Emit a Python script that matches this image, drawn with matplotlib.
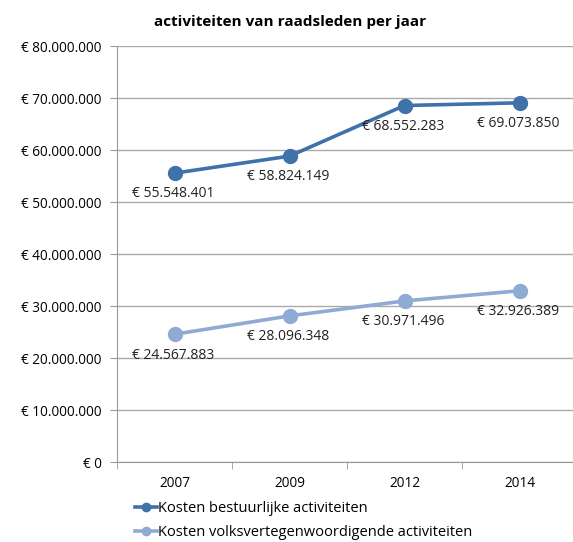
import matplotlib.pyplot as plt
from matplotlib.ticker import FuncFormatter

plt.rcParams['font.family'] = ['Open Sans', 'DejaVu Sans']

years = ['2007', '2009', '2012', '2014']
bestuurlijk = [55548401, 58824149, 68552283, 69073850]
volks = [24567883, 28096348, 30971496, 32926389]
labels = ['Kosten bestuurlijke activiteiten', 'Kosten volksvertegenwoordigende activiteiten']
c_dark = '#3F71AA'
c_light = '#8FAAD3'


def euro(v, pos=None):
    return '€ ' + format(int(round(v)), ',').replace(',', '.')


fig = plt.figure(figsize=(5.73, 5.42), dpi=100)
ax = fig.add_axes([117 / 573, 80 / 542, 460 / 573, 416 / 542])

x = range(len(years))
p1, = ax.plot(x, bestuurlijk, color=c_dark, lw=2.6, marker='o', ms=10, label=labels[0], zorder=3)
p2, = ax.plot(x, volks, color=c_light, lw=2.6, marker='o', ms=10, label=labels[1], zorder=3)

for xx, yy in zip(x, bestuurlijk):
    ax.annotate(euro(yy), (xx, yy), xytext=(-1, -15), textcoords='offset points',
                ha='center', va='center', fontsize=10, color='#222222')
for xx, yy in zip(x, volks):
    ax.annotate(euro(yy), (xx, yy), xytext=(-1, -15), textcoords='offset points',
                ha='center', va='center', fontsize=10, color='#222222')

ax.set_xlim(-0.5, 3.5)
ax.set_ylim(0, 80000000)
ax.set_yticks(range(0, 80000001, 10000000))
ax.yaxis.set_major_formatter(FuncFormatter(euro))
ax.set_xticks(list(x))
ax.set_xticklabels(years)
ax.set_xticks([-0.5, 0.5, 1.5, 2.5, 3.5], minor=True)
ax.tick_params(axis='x', which='major', length=0, pad=10, labelsize=9.8)
ax.tick_params(axis='x', which='minor', length=5, color='#999999')
ax.tick_params(axis='y', length=5, color='#999999', labelsize=9.8, pad=6)

ax.grid(True, axis='y', color='#AAAAAA', lw=1)
ax.set_axisbelow(True)
for s in ['top', 'right']:
    ax.spines[s].set_visible(False)
for s in ['left', 'bottom']:
    ax.spines[s].set_color('#999999')

fig.text(290 / 573, 1 - 22 / 542, 'activiteiten van raadsleden per jaar',
         ha='center', va='center', fontsize=11, fontweight='bold')

fig.legend(handles=[p1, p2], loc='upper left', bbox_to_anchor=(135 / 573, 1 - 501 / 542),
           frameon=False, fontsize=10.5, handlelength=1.5, handletextpad=0.05,
           labelspacing=0.6, markerscale=0.6, borderaxespad=0, borderpad=0)

fig.savefig('out.png', dpi=100)
